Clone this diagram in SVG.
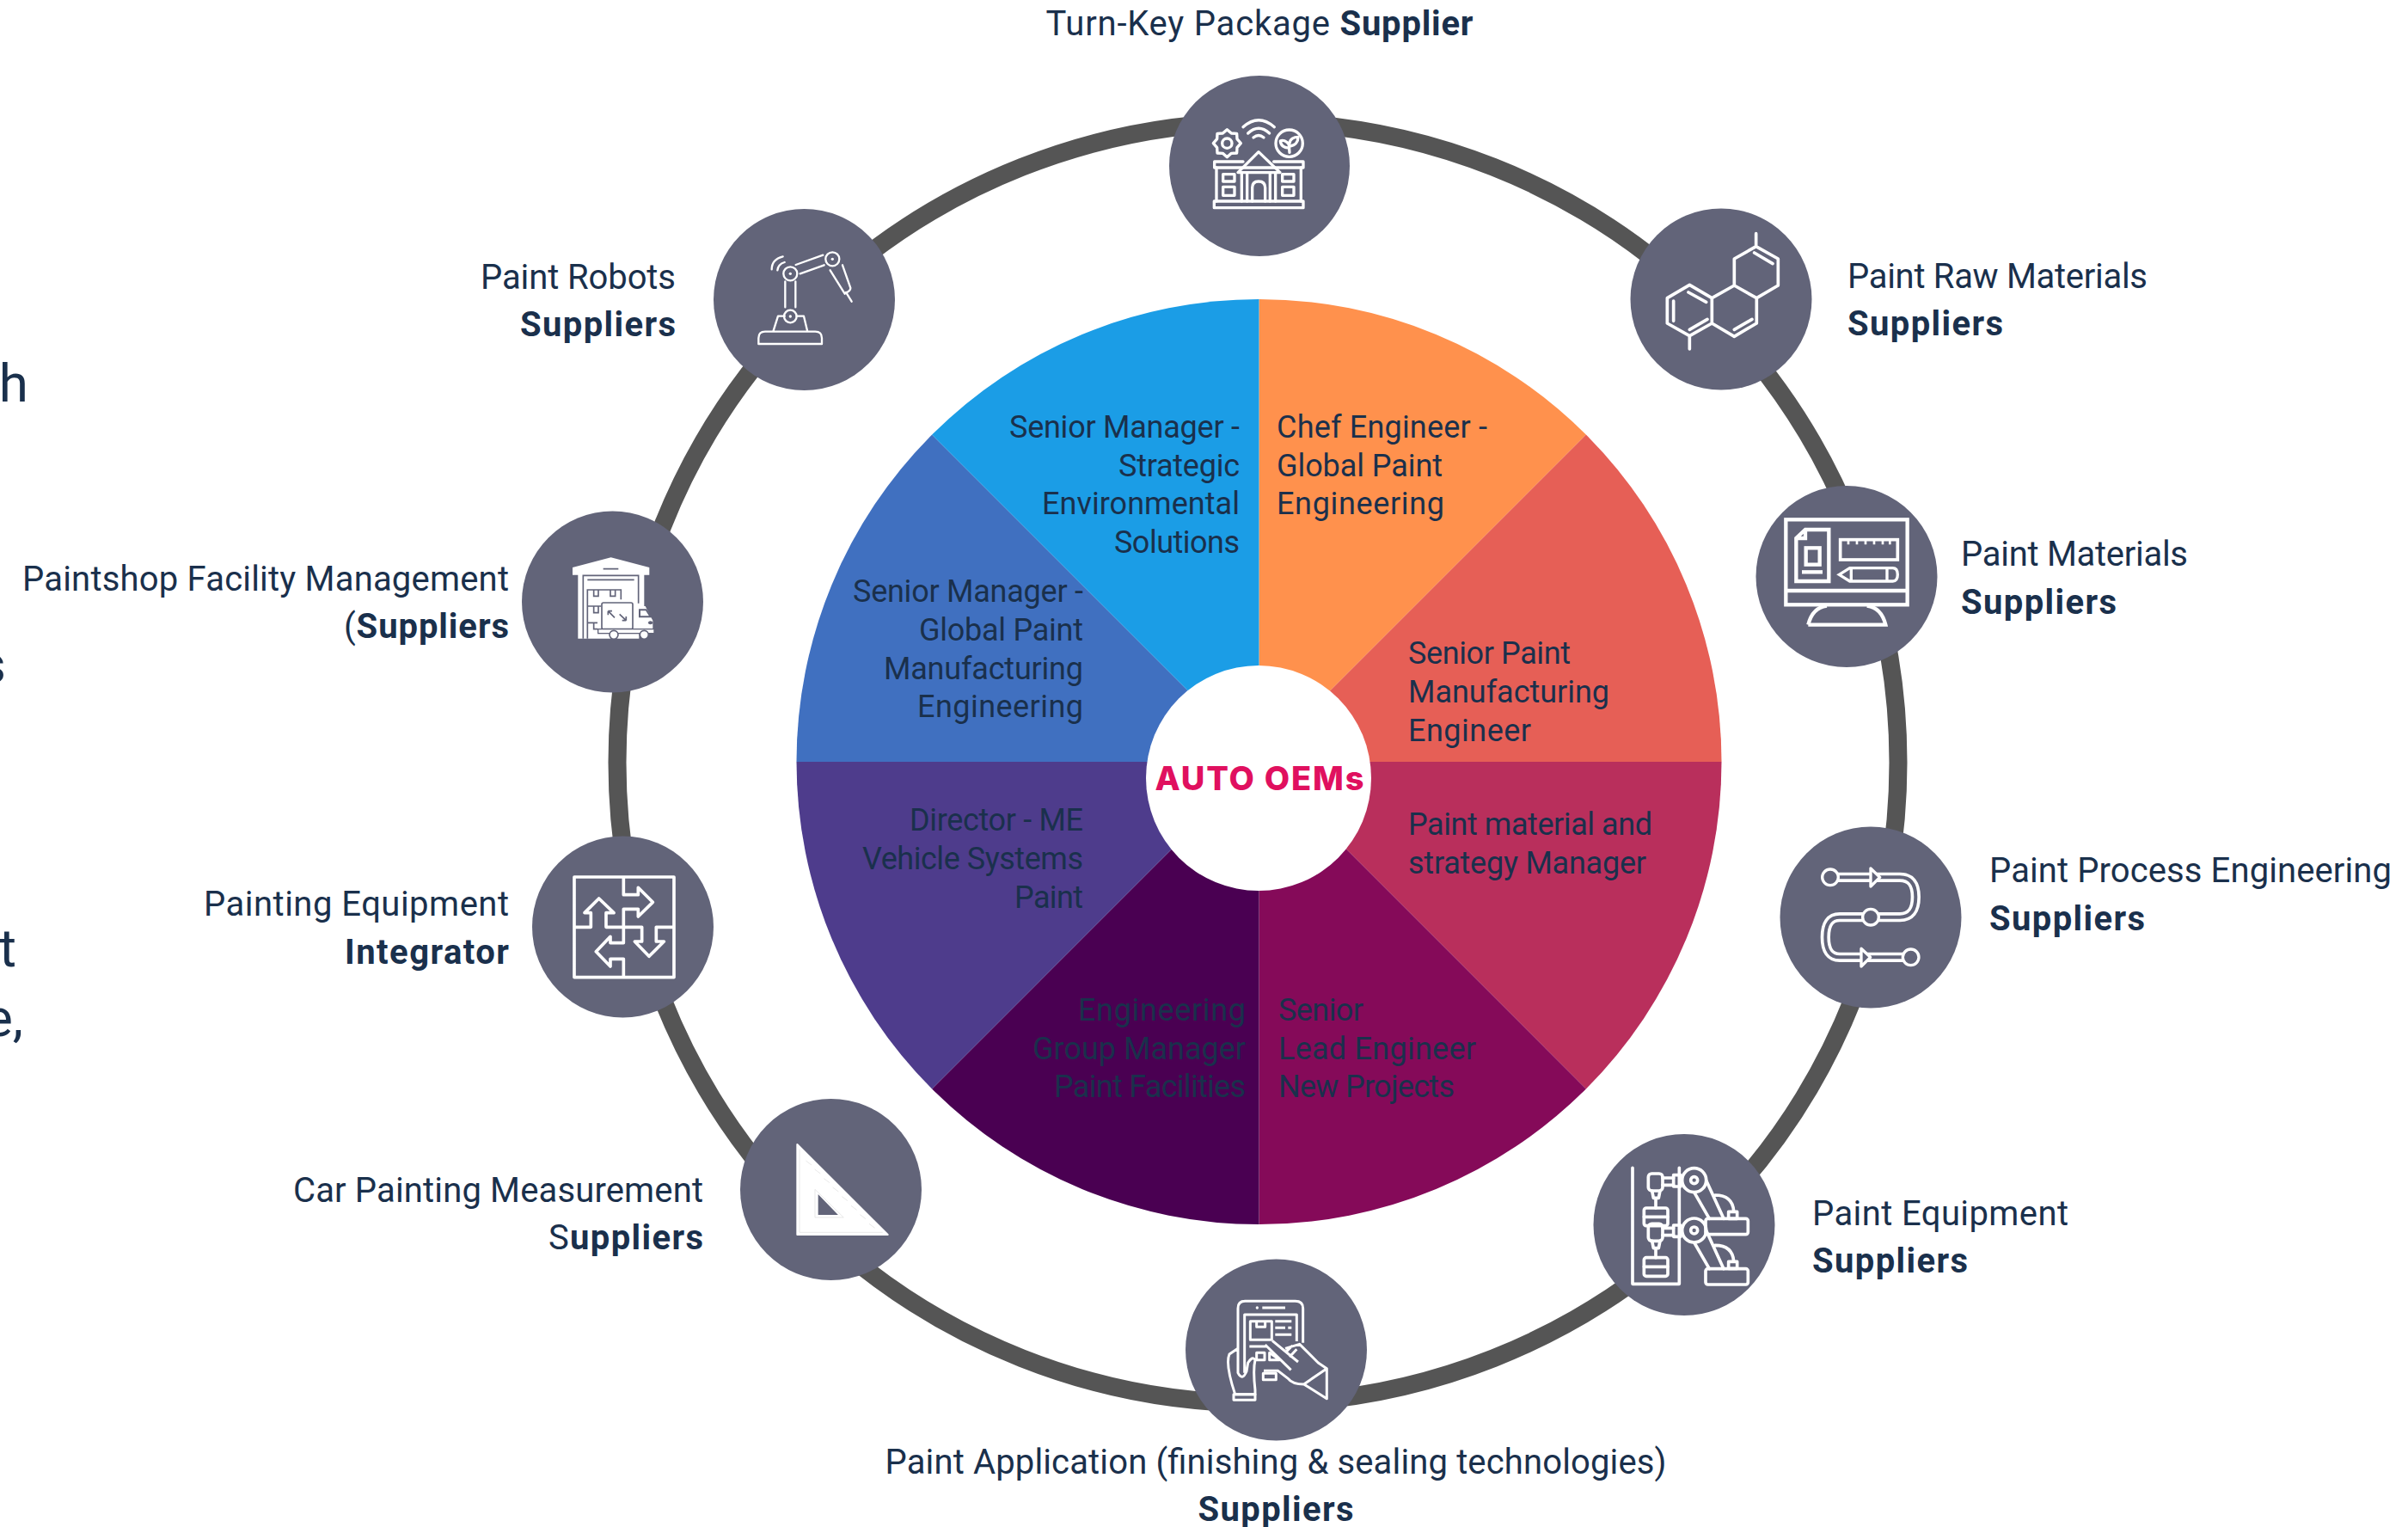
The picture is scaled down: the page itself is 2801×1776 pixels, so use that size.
<svg xmlns="http://www.w3.org/2000/svg" width="2801" height="1776" viewBox="0 0 2801 1776">
<style>
text{font-family:Roboto,"Liberation Sans",sans-serif;fill:#1a304c;transform:translateY(-1.5px)}
.l{font-size:40px;font-weight:400}
.i{font-size:36px;font-weight:400}
.b{font-weight:700}
.e{text-anchor:end}
.m{text-anchor:middle}
.big{font-size:62px;font-weight:400}
.nc{fill:#626479}
.s{fill:none;stroke:#fff;stroke-linejoin:round;stroke-linecap:round}
.w{fill:#fff}
.d{fill:none;stroke:#626479;stroke-width:5}
</style>
<defs><polygon id="gear" points="48,0 35,15 34,34 15,35 0,48 -15,35 -34,34 -35,15 -48,0 -35,-15 -34,-34 -15,-35 0,-48 15,-35 34,-34 35,-15"/></defs>
<rect width="2801" height="1776" fill="#fff"/>
<g id="clipped-text">
<text class="big e" x="33" y="468">h</text>
<text class="big e" x="7" y="795">s</text>
<text class="big e" x="19" y="1125">t</text>
<text class="big e" x="27" y="1206">e,</text>
</g>
<g id="connectors"><circle cx="1463" cy="887" r="745" fill="none" stroke="#555" stroke-width="21"/></g>
<g id="wedge-1"><path d="M1464.500 886V348A538 538 0 0 1 1844.900 505.600Z" fill="#ff914d"/><text class="i" x="1485" y="510" textLength="245">Chef Engineer -</text><text class="i" x="1485" y="555" textLength="193">Global Paint</text><text class="i" x="1485" y="599" textLength="195">Engineering</text></g>
<g id="wedge-2"><path d="M1464.500 886L1844.900 505.600A538 538 0 0 1 2002.500 886Z" fill="#e65f56"/><text class="i" x="1638" y="773" textLength="189">Senior Paint</text><text class="i" x="1638" y="818" textLength="234">Manufacturing</text><text class="i" x="1638" y="863" textLength="143">Engineer</text></g>
<g id="wedge-3"><path d="M1464.500 886H2002.500A538 538 0 0 1 1844.900 1266.400Z" fill="#b92f5c"/><text class="i" x="1638" y="972" textLength="284">Paint material and</text><text class="i" x="1638" y="1017" textLength="277">strategy Manager</text></g>
<g id="wedge-4"><path d="M1464.500 886L1844.900 1266.400A538 538 0 0 1 1464.500 1424Z" fill="#850a59"/><text class="i" x="1487" y="1188" textLength="99">Senior</text><text class="i" x="1487" y="1233" textLength="230">Lead Engineer</text><text class="i" x="1487" y="1277" textLength="205">New Projects</text></g>
<g id="wedge-5"><path d="M1464.500 886V1424A538 538 0 0 1 1084.100 1266.400Z" fill="#4a0052"/><text class="i e" x="1449" y="1188" textLength="195">Engineering</text><text class="i e" x="1449" y="1233" textLength="248">Group Manager</text><text class="i e" x="1449" y="1277" textLength="223">Paint Facilities</text></g>
<g id="wedge-6"><path d="M1464.500 886L1084.100 1266.400A538 538 0 0 1 926.500 886Z" fill="#4e3c8c"/><text class="i e" x="1260" y="967" textLength="202">Director - ME</text><text class="i e" x="1260" y="1012" textLength="257">Vehicle Systems</text><text class="i e" x="1260" y="1057" textLength="80">Paint</text></g>
<g id="wedge-7"><path d="M1464.500 886H926.500A538 538 0 0 1 1084.100 505.600Z" fill="#4070c0"/><text class="i e" x="1260" y="701" textLength="268">Senior Manager -</text><text class="i e" x="1260" y="746" textLength="191">Global Paint</text><text class="i e" x="1260" y="791" textLength="232">Manufacturing</text><text class="i e" x="1260" y="835" textLength="193">Engineering</text></g>
<g id="wedge-8"><path d="M1464.500 886L1084.100 505.600A538 538 0 0 1 1464.500 348Z" fill="#1b9de6"/><text class="i e" x="1442" y="510" textLength="268">Senior Manager -</text><text class="i e" x="1442" y="555" textLength="141">Strategic</text><text class="i e" x="1442" y="599" textLength="230">Environmental</text><text class="i e" x="1442" y="644" textLength="146">Solutions</text></g>
<g id="center"><circle cx="1464" cy="905" r="131" fill="#fff"/><text x="1465" y="920" text-anchor="middle" textLength="243" style="font-family:Inter,sans-serif;font-size:38px;font-weight:800;fill:#e0105f">AUTO OEMs</text></g>

<g id="node-turnkey"><circle class="nc" cx="1465" cy="193" r="105"/>
<g transform="translate(1300 100) scale(.3333)"><g class="s" stroke-width="10"><use href="#gear" x="382" y="200"/><circle cx="382" cy="200" r="17"/><path d="M438 143Q492 95 547 143M455 165Q492 130 530 165M474 180Q492 165 510 180"/><circle cx="599" cy="200" r="47"/><path d="M600 232L598 205M598 205C590 190 575 188 568 192C570 210 585 218 598 215M600 200C602 185 615 178 630 178C630 195 620 208 602 210"/><path d="M438 264H338V285H648V264H545"/><path d="M492 230L420 302H567Z"/><path d="M345 285V402M640 285V402M433 305V402M452 305V402M532 305V402M551 305V402M470 402V355Q470 333 492 333Q515 333 515 355V402"/><rect x="368" y="308" width="40" height="25"/><rect x="368" y="352" width="40" height="30"/><rect x="575" y="308" width="40" height="25"/><rect x="575" y="352" width="40" height="30"/><rect x="337" y="402" width="311" height="23"/></g></g>
<text class="l m" x="1465" y="42" textLength="497">Turn-Key Package <tspan class="b">Supplier</tspan></text></g>

<g id="node-robots"><circle class="nc" cx="935.500" cy="348.500" r="105.500"/>
<g transform="translate(800 220) scale(.3333)"><g class="s" stroke-width="7"><path d="M247 540V520Q247 497 270 497H445Q468 497 468 520V540ZM298 497L315 443H338M380 443H405L418 497M340 322V412M376 322V412M377 264L472 230M392 295L476 265M293 280Q293 245 332 235M313 283Q315 262 338 255M497 283L548 365M540 265L568 345Q568 355 552 362M552 360L572 392"/><circle cx="358" cy="444" r="22"/><circle cx="358" cy="295" r="24"/><circle cx="505" cy="244" r="24"/></g><g class="w"><circle cx="358" cy="444" r="5"/><circle cx="358" cy="295" r="5"/><circle cx="505" cy="244" r="5"/></g></g>
<text class="l e" x="786" y="337" textLength="227">Paint Robots</text><text class="l e b" x="786" y="392" textLength="181">Suppliers</text></g>

<g id="node-raw"><circle class="nc" cx="2002" cy="348" r="105.500"/>
<g transform="translate(1860 220) scale(.3333)"><path class="s" stroke-width="11" d="M316 334L394 380V468L316 512L238 468V380ZM394 380L472 336L550 380V468L472 514L394 468M472 336V243L548 200L625 243V336L550 380M548 200V155M316 512V558M260 390V460M312 360L374 394M316 490L378 454M472 490L534 454M542 222L606 260"/></g>
<text class="l" x="2149" y="336" textLength="349">Paint Raw Materials</text><text class="l b" x="2149" y="391" textLength="181">Suppliers</text></g>

<g id="node-materials"><circle class="nc" cx="2148" cy="670.500" r="105.500"/>
<g transform="translate(2020 550) scale(.3333)"><g class="s" stroke-width="13" style="stroke-linecap:butt;stroke-linejoin:miter"><rect x="172" y="163" width="424" height="297"/><path d="M172 411H596M250 530H520Q505 470 455 464M250 530Q265 470 315 464M208 378V228L240 198H322V378ZM208 228H240V198"/><rect x="242" y="262" width="48" height="58"/><path d="M228 346H300"/><rect x="362" y="233" width="200" height="70" stroke-width="11"/><path stroke-width="8" d="M390 233V250M420 233V250M450 233V250M480 233V250M510 233V250M535 233V250"/><path stroke-width="10" d="M358 355L395 332H545Q562 332 562 355Q562 378 545 378H395ZM400 332V378M525 332V378"/></g></g>
<text class="l" x="2281" y="659" textLength="264">Paint Materials</text><text class="l b" x="2281" y="715" textLength="181">Suppliers</text></g>

<g id="node-process"><circle class="nc" cx="2176" cy="1067" r="105.500"/>
<g transform="translate(2050 950) scale(.3333)"><path d="M237 211H480Q535 211 535 280Q535 350 480 350H270Q220 350 220 420Q220 490 270 490H518" fill="none" stroke="#fff" stroke-width="34"/><path d="M237 211H480Q535 211 535 280Q535 350 480 350H270Q220 350 220 420Q220 490 270 490H518" fill="none" stroke="#626479" stroke-width="12"/><g class="nc" stroke="#fff" stroke-width="10" stroke-linejoin="round"><circle cx="237" cy="211" r="28"/><circle cx="378" cy="350" r="28"/><circle cx="518" cy="490" r="28"/><path d="M378 180V243L410 211Z"/><path d="M345 460V522L377 490Z"/></g></g>
<text class="l" x="2314" y="1027" textLength="468">Paint Process Engineering</text><text class="l b" x="2314" y="1083" textLength="181">Suppliers</text></g>

<g id="node-equipment"><circle class="nc" cx="1959" cy="1424.500" r="105.500"/>
<g transform="translate(1840 1310) scale(.3333)"><g class="s" stroke-width="11"><path d="M177 145V550H340V145M282 180H320M282 205H320M282 355H320M282 380H320M245 225L250 250H268L273 225M258 250V285M245 400L250 425H268L273 400M258 425V458M392 230L445 322M430 180L495 322M392 405L445 497M430 355L495 497M465 240Q525 240 530 295M465 415Q525 415 530 470M217 316H300M217 490H300"/><rect x="232" y="165" width="50" height="60" rx="12"/><rect x="232" y="340" width="50" height="60" rx="12"/><rect x="320" y="170" width="25" height="40"/><rect x="320" y="345" width="25" height="40"/><rect x="217" y="285" width="83" height="62" rx="8"/><rect x="217" y="458" width="83" height="65" rx="8"/><circle class="nc" cx="392" cy="188" r="42"/><circle cx="392" cy="188" r="12"/><circle class="nc" cx="392" cy="363" r="42"/><circle cx="392" cy="363" r="12"/><rect x="512" y="298" width="30" height="24"/><rect x="512" y="472" width="30" height="24"/><rect x="432" y="322" width="148" height="55" rx="8"/><rect x="432" y="497" width="148" height="55" rx="8"/></g></g>
<text class="l" x="2108" y="1426" textLength="298">Paint Equipment</text><text class="l b" x="2108" y="1481" textLength="181">Suppliers</text></g>

<g id="node-application"><circle class="nc" cx="1484.500" cy="1570" r="105.500"/>
<g transform="translate(1370 1460) scale(.3333)"><g class="s" stroke-width="9" style="stroke-linecap:butt"><path d="M210 325V185Q210 160 235 160H410Q437 160 437 185V305M233 410V207H415V300M295 183H375M340 230H397M340 253H375M385 253H397M340 277H397M250 318H310M305 312L395 400M330 298L420 372M375 325L425 310L490 375L520 395V500L440 450L520 395M440 450Q400 450 385 430L350 403H300M390 355L415 328M375 340L400 315M210 325L180 345Q165 380 200 485H270V470Q262 400 270 365Q260 350 245 375L240 405Q225 440 210 410V325"/><rect x="253" y="230" width="75" height="65"/><path d="M275 230V250H305V230"/><rect x="275" y="340" width="28" height="25"/><path d="M320 340L355 365H320Z"/><rect x="298" y="412" width="45" height="22"/><rect x="195" y="485" width="75" height="20"/></g><circle class="w" cx="277" cy="183" r="5"/></g>
<text class="l m" x="1484" y="1715" textLength="909">Paint Application (finishing &amp; sealing technologies)</text><text class="l m b" x="1484" y="1770" textLength="181">Suppliers</text></g>

<g id="node-measurement"><circle class="nc" cx="966.500" cy="1383.500" r="105.500"/>
<g transform="translate(850 1270) scale(.3333)"><path class="w" fill-rule="evenodd" stroke="#fff" stroke-width="6" stroke-linejoin="round" d="M232 183L548 498H232ZM302 350V432H382Z"/><path fill="none" stroke="#ddd" stroke-width="2" d="M262 240L282 255M293 270L313 285M325 302L345 317M356 333L376 348M388 365L408 380M420 397L440 412M451 428L471 443M483 460L503 475M240 200V490H530M294 340V438H394Z"/></g>
<text class="l e" x="818" y="1399" textLength="477">Car Painting Measurement</text><text class="l e" x="818" y="1454" textLength="180">S<tspan class="b">uppliers</tspan></text></g>

<g id="node-integrator"><circle class="nc" cx="724.500" cy="1078" r="105.500"/>
<g transform="translate(610 970) scale(.3333)"><path class="s" stroke-width="11" d="M174 150H522V500H174ZM346 150V212H397V187L448 238L397 288V262H346V380H300V358L250 410L300 462V436H346V500M174 325H232V275H210L260 225L312 275H285V325H410V375H385L435 427L487 375H460V325H522"/></g>
<text class="l e" x="592" y="1066" textLength="355">Painting Equipment</text><text class="l e b" x="592" y="1122" textLength="191">Integrator</text></g>

<g id="node-facility"><circle class="nc" cx="712.500" cy="700" r="105.500"/>
<g transform="translate(600 580) scale(.3333)"><path class="w" d="M198 240L332 205L466 240V266H448V375H452L478 425V470H483V470H430V488H217V266H198Z"/><path class="d" d="M305 245H358M235 488V268H428V365M250 283H413M250 488V318H367V352M272 320V340H288V320M330 320V340H347V320M250 375H298M272 377V398H288V377M250 433H285M272 435V455H285"/><rect x="300" y="363" width="108" height="92" rx="6" class="w" stroke="#626479" stroke-width="5"/><path class="d" d="M322 392L345 415M322 392H336M322 392V406M385 425L362 403M385 425H371M385 425V411"/><path d="M432 388H455L470 412H432Z" fill="#fff" stroke="#626479" stroke-width="6"/><ellipse cx="470" cy="433" rx="8" ry="6" fill="#626479"/><rect x="287" y="455" width="196" height="15" class="w" stroke="#626479" stroke-width="4"/><circle cx="342" cy="475" r="15" class="w" stroke="#626479" stroke-width="5"/><circle cx="448" cy="475" r="15" class="w" stroke="#626479" stroke-width="5"/></g>
<text class="l e" x="592" y="688" textLength="566">Paintshop Facility Management</text><text class="l e" x="592" y="743" textLength="192">(<tspan class="b">Suppliers</tspan></text></g>
</svg>
